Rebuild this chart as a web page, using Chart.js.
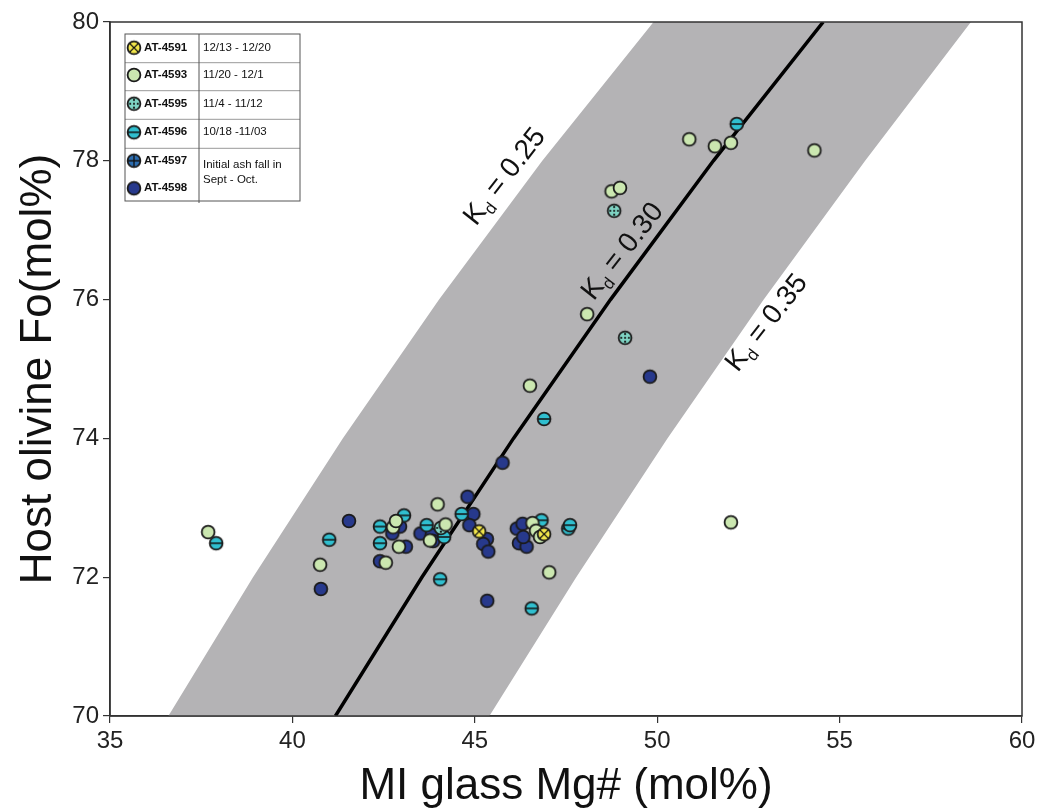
<!DOCTYPE html>
<html>
<head>
<meta charset="utf-8">
<title>Host olivine Fo vs MI glass Mg#</title>
<script src="https://cdn.jsdelivr.net/npm/chart.js@4.4.1/dist/chart.umd.min.js"></script>
<style>
  html, body { margin: 0; padding: 0; background: #fff; }
  #wrap { width: 1042px; height: 812px; }
</style>
</head>
<body>
<div id="wrap"><canvas id="myChart"></canvas></div>
<script>
// melt inclusions, [MI glass Mg#, host olivine Fo] in mol%
var at4591 = [[45.12, 72.66], [46.90, 72.62]];
var at4593 = [
    [37.69, 72.65], [40.76, 72.18], [42.56, 72.21], [42.76, 72.72], [42.84, 72.81],
    [42.92, 72.44], [43.98, 73.05], [43.77, 72.53], [44.20, 72.76], [46.58, 72.78],
    [46.68, 72.67], [46.79, 72.58], [47.04, 72.07], [52.02, 72.79], [46.51, 74.76],
    [48.08, 75.79], [48.75, 77.56], [48.98, 77.61], [50.88, 78.31], [51.58, 78.21],
    [52.02, 78.26], [54.31, 78.15]
];
var at4595 = [[44.07, 72.71], [48.82, 77.28], [49.12, 75.45]];
var at4596 = [
    [37.91, 72.49], [41.01, 72.54], [42.40, 72.73], [42.40, 72.49], [43.06, 72.89],
    [43.68, 72.75], [44.16, 72.58], [44.05, 71.97], [44.64, 72.91], [46.83, 72.82],
    [47.56, 72.70], [47.61, 72.75], [46.56, 71.55], [46.90, 74.28], [52.18, 78.53]
];
var at4597 = [];
var at4598 = [
    [40.78, 71.83], [41.55, 72.81], [42.40, 72.23], [42.95, 72.73], [42.74, 72.63],
    [43.11, 72.44], [43.51, 72.63], [43.82, 72.61], [43.86, 72.52], [44.80, 73.16],
    [44.96, 72.91], [44.85, 72.75], [45.33, 72.55], [45.23, 72.48], [45.37, 72.37],
    [46.15, 72.70], [46.31, 72.77], [46.21, 72.49], [46.42, 72.44], [46.33, 72.58],
    [45.34, 71.66], [45.76, 73.65], [49.80, 74.89]
];

// equilibrium curves: Mg# of the melt at each olivine Fo
var curveFo = [70, 72, 74, 76, 78, 80];
var kd25Mg = [36.60, 38.92, 41.38, 44.02, 46.85, 49.90];
var kd30Mg = [41.18, 43.55, 46.06, 48.72, 51.54, 54.55];
var kd35Mg = [45.40, 47.78, 50.28, 52.92, 55.70, 58.60];
var kdValues = ['0.25', '0.30', '0.35'];

var sampleNames = ['AT-4591', 'AT-4593', 'AT-4595', 'AT-4596', 'AT-4597', 'AT-4598'];
var sampleDates = ['12/13 - 12/20', '11/20 - 12/1', '11/4 - 11/12', '10/18 -11/03', 'Initial ash fall in', 'Sept - Oct.'];

var xTicks = [35, 40, 45, 50, 55, 60];
var yTicks = [70, 72, 74, 76, 78, 80];

var FONT = '"Liberation Sans", Arial, Helvetica, sans-serif';
Chart.defaults.font.family = FONT;

function toXY(pairs) {
    return pairs.map(function (p) { return { x: p[0], y: p[1] }; });
}

function curveXY(mg) {
    return mg.map(function (m, i) { return { x: m, y: curveFo[i] }; });
}

// small canvas used as the point style of each sample
function markerCanvas(fill, deco) {
    var c = document.createElement('canvas');
    c.width = 18;
    c.height = 18;
    var g = c.getContext('2d');
    var r = 6.4;
    g.beginPath();
    g.arc(9, 9, r, 0, Math.PI * 2);
    g.fillStyle = fill;
    g.fill();
    g.save();
    g.clip();
    g.strokeStyle = '#111';
    g.fillStyle = '#111';
    g.lineWidth = 1.3;
    if (deco === 'bar') {
        g.beginPath(); g.moveTo(2, 9); g.lineTo(16, 9); g.stroke();
    } else if (deco === 'plus') {
        g.beginPath(); g.moveTo(2, 9); g.lineTo(16, 9); g.moveTo(9, 2); g.lineTo(9, 16); g.stroke();
    } else if (deco === 'cross') {
        g.lineWidth = 1.1;
        g.beginPath(); g.moveTo(4, 4); g.lineTo(14, 14); g.moveTo(14, 4); g.lineTo(4, 14); g.stroke();
    } else if (deco === 'dots') {
        [[9, 9], [9, 5.2], [9, 12.8], [5.2, 9], [12.8, 9]].forEach(function (d) {
            g.beginPath(); g.arc(d[0], d[1], 1.1, 0, Math.PI * 2); g.fill();
        });
    }
    g.restore();
    g.beginPath();
    g.arc(9, 9, r, 0, Math.PI * 2);
    g.lineWidth = 1.8;
    g.strokeStyle = '#1b1b1b';
    g.stroke();
    return c;
}

var markers = [
    markerCanvas('#f2e64b', 'cross'),
    markerCanvas('#cbe7b0', ''),
    markerCanvas('#7fd4c4', 'dots'),
    markerCanvas('#30bfcf', 'bar'),
    markerCanvas('#2c6db0', 'plus'),
    markerCanvas('#27398c', '')
];
var sampleData = [at4591, at4593, at4595, at4596, at4597, at4598];

var pointSets = sampleData.map(function (d, i) {
    return {
        label: sampleNames[i],
        data: toXY(d),
        pointStyle: markers[i],
        pointRadius: 7,
        order: i
    };
});

// box around the plotting area
var framePlugin = {
    id: 'plotFrame',
    afterDraw: function (chart) {
        var a = chart.chartArea, ctx = chart.ctx;
        ctx.save();
        ctx.strokeStyle = '#333';
        ctx.lineWidth = 1.5;
        ctx.strokeRect(a.left, a.top, a.right - a.left, a.bottom - a.top);
        ctx.restore();
    }
};

// rotated "Kd = x" captions along the curves
var kdLabelPlugin = {
    id: 'kdLabels',
    afterDatasetsDraw: function (chart, args, opts) {
        var ctx = chart.ctx, xs = chart.scales.x, ys = chart.scales.y;
        var size = opts.size;
        var big = size + 'px ' + FONT;
        var small = Math.round(size * 0.6) + 'px ' + FONT;
        opts.at.forEach(function (pos, i) {
            var text = ' = ' + kdValues[i];
            ctx.save();
            ctx.translate(xs.getPixelForValue(pos[0]), ys.getPixelForValue(pos[1]));
            ctx.rotate(opts.angle * Math.PI / 180);
            ctx.textBaseline = 'middle';
            ctx.fillStyle = '#111';
            ctx.font = big;
            var wK = ctx.measureText('K').width;
            var wRest = ctx.measureText(text).width;
            ctx.font = small;
            var wd = ctx.measureText('d').width;
            var x = -(wK + wd + wRest) / 2;
            ctx.font = big;
            ctx.fillText('K', x, 0);
            x += wK;
            ctx.font = small;
            ctx.fillText('d', x, size * 0.32);
            x += wd;
            ctx.font = big;
            ctx.fillText(text, x, 0);
            ctx.restore();
        });
    }
};

// sample / eruption date table in the upper left corner
var tablePlugin = {
    id: 'sampleTable',
    afterDraw: function (chart) {
        var ctx = chart.ctx, a = chart.chartArea;
        var x0 = a.left + 15, y0 = a.top + 12, w = 175, h = 167, colX = x0 + 74;
        var seps = [28.7, 56.7, 85.3, 114.3];
        var rowMid = [13.7, 41, 69.7, 98.3, 126.7, 154.3];
        ctx.save();
        ctx.fillStyle = '#fff';
        ctx.fillRect(x0, y0, w, h);
        ctx.strokeStyle = '#999';
        ctx.lineWidth = 1;
        seps.forEach(function (s) {
            ctx.beginPath();
            ctx.moveTo(x0, y0 + s);
            ctx.lineTo(x0 + w, y0 + s);
            ctx.stroke();
        });
        ctx.strokeStyle = '#555';
        ctx.beginPath();
        ctx.moveTo(colX, y0);
        ctx.lineTo(colX, y0 + h + 2);
        ctx.stroke();
        ctx.strokeRect(x0, y0, w, h);

        ctx.textBaseline = 'middle';
        ctx.fillStyle = '#111';
        sampleNames.forEach(function (name, i) {
            var cy = y0 + rowMid[i];
            ctx.drawImage(markers[i], x0 + 9 - 9, cy - 9);
            ctx.font = 'bold 11.5px ' + FONT;
            ctx.fillText(name, x0 + 19, cy);
        });
        ctx.font = '11.5px ' + FONT;
        for (var i = 0; i < 4; i++) {
            ctx.fillText(sampleDates[i], x0 + 78, y0 + rowMid[i]);
        }
        ctx.fillText(sampleDates[4], x0 + 78, y0 + 131);
        ctx.fillText(sampleDates[5], x0 + 78, y0 + 146);
        ctx.restore();
    }
};

var ctx = document.getElementById('myChart').getContext('2d');

new Chart(ctx, {
    type: 'scatter',
    data: {
        datasets: pointSets.concat([
            {
                label: 'Kd = 0.30',
                data: curveXY(kd30Mg),
                showLine: true,
                borderColor: '#000',
                borderWidth: 3.5,
                pointRadius: 0,
                fill: false,
                order: 9
            },
            {
                label: 'Kd 0.25 - 0.35',
                data: curveXY(kd25Mg).concat(curveXY(kd35Mg).reverse()),
                showLine: true,
                borderColor: 'rgba(0,0,0,0)',
                borderWidth: 0,
                backgroundColor: '#b4b3b5',
                pointRadius: 0,
                fill: 'shape',
                order: 10
            }
        ])
    },
    options: {
        responsive: true,
        maintainAspectRatio: false,
        animation: false,
        layout: { padding: { top: 22, right: 20, left: 0, bottom: 0 } },
        plugins: {
            legend: { display: false },
            tooltip: { enabled: false },
            kdLabels: {
                size: 28,
                angle: -52,
                at: [[45.83, 77.77], [49.06, 76.69], [53.01, 75.66]]
            }
        },
        scales: {
            x: {
                type: 'linear',
                min: 35,
                max: 60,
                afterBuildTicks: function (s) { s.ticks = xTicks.map(function (v) { return { value: v }; }); },
                afterFit: function (s) { s.height = 96; },
                ticks: { font: { size: 24 }, color: '#222', padding: 4 },
                grid: { drawOnChartArea: false, tickLength: 7, color: '#333', lineWidth: 1.2 },
                border: { color: '#333', width: 1.5 },
                title: {
                    display: true,
                    text: 'MI glass Mg# (mol%)',
                    font: { size: 44, lineHeight: 1 },
                    color: '#111',
                    padding: { top: 0, bottom: 3 }
                }
            },
            y: {
                type: 'linear',
                min: 70,
                max: 80,
                afterBuildTicks: function (s) { s.ticks = yTicks.map(function (v) { return { value: v }; }); },
                afterFit: function (s) { s.width = 110; },
                ticks: { font: { size: 24 }, color: '#222', padding: 4 },
                grid: { drawOnChartArea: false, tickLength: 7, color: '#333', lineWidth: 1.2 },
                border: { color: '#333', width: 1.5 },
                title: {
                    display: true,
                    text: 'Host olivine Fo(mol%)',
                    font: { size: 44, lineHeight: 1 },
                    color: '#111',
                    padding: { top: 17, bottom: 0 }
                }
            }
        }
    },
    plugins: [framePlugin, kdLabelPlugin, tablePlugin]
});
</script>
</body>
</html>
